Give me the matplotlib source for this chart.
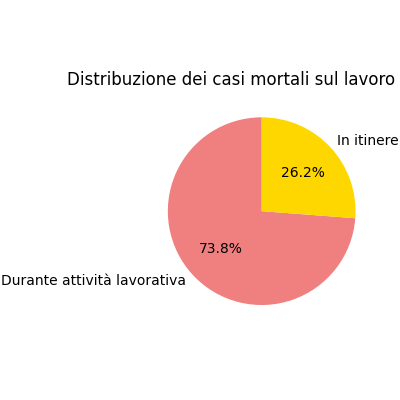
import matplotlib
matplotlib.use("Agg")
import matplotlib.pyplot as plt

labels = ["Durante attività lavorativa", "In itinere"]
values = [73.8, 26.2]
colors = ["lightcoral", "gold"]

fig, ax = plt.subplots(figsize=(4, 4), dpi=100)
ax.pie(values, labels=labels, colors=colors, autopct="%1.1f%%", startangle=90)
ax.set_title(" ")
plt.tight_layout()
fig.text(231 / 400, 1 - 80 / 400, "Distribuzione dei casi mortali sul lavoro",
         ha="center", va="center", fontsize=12)
fig.savefig("out.png")
